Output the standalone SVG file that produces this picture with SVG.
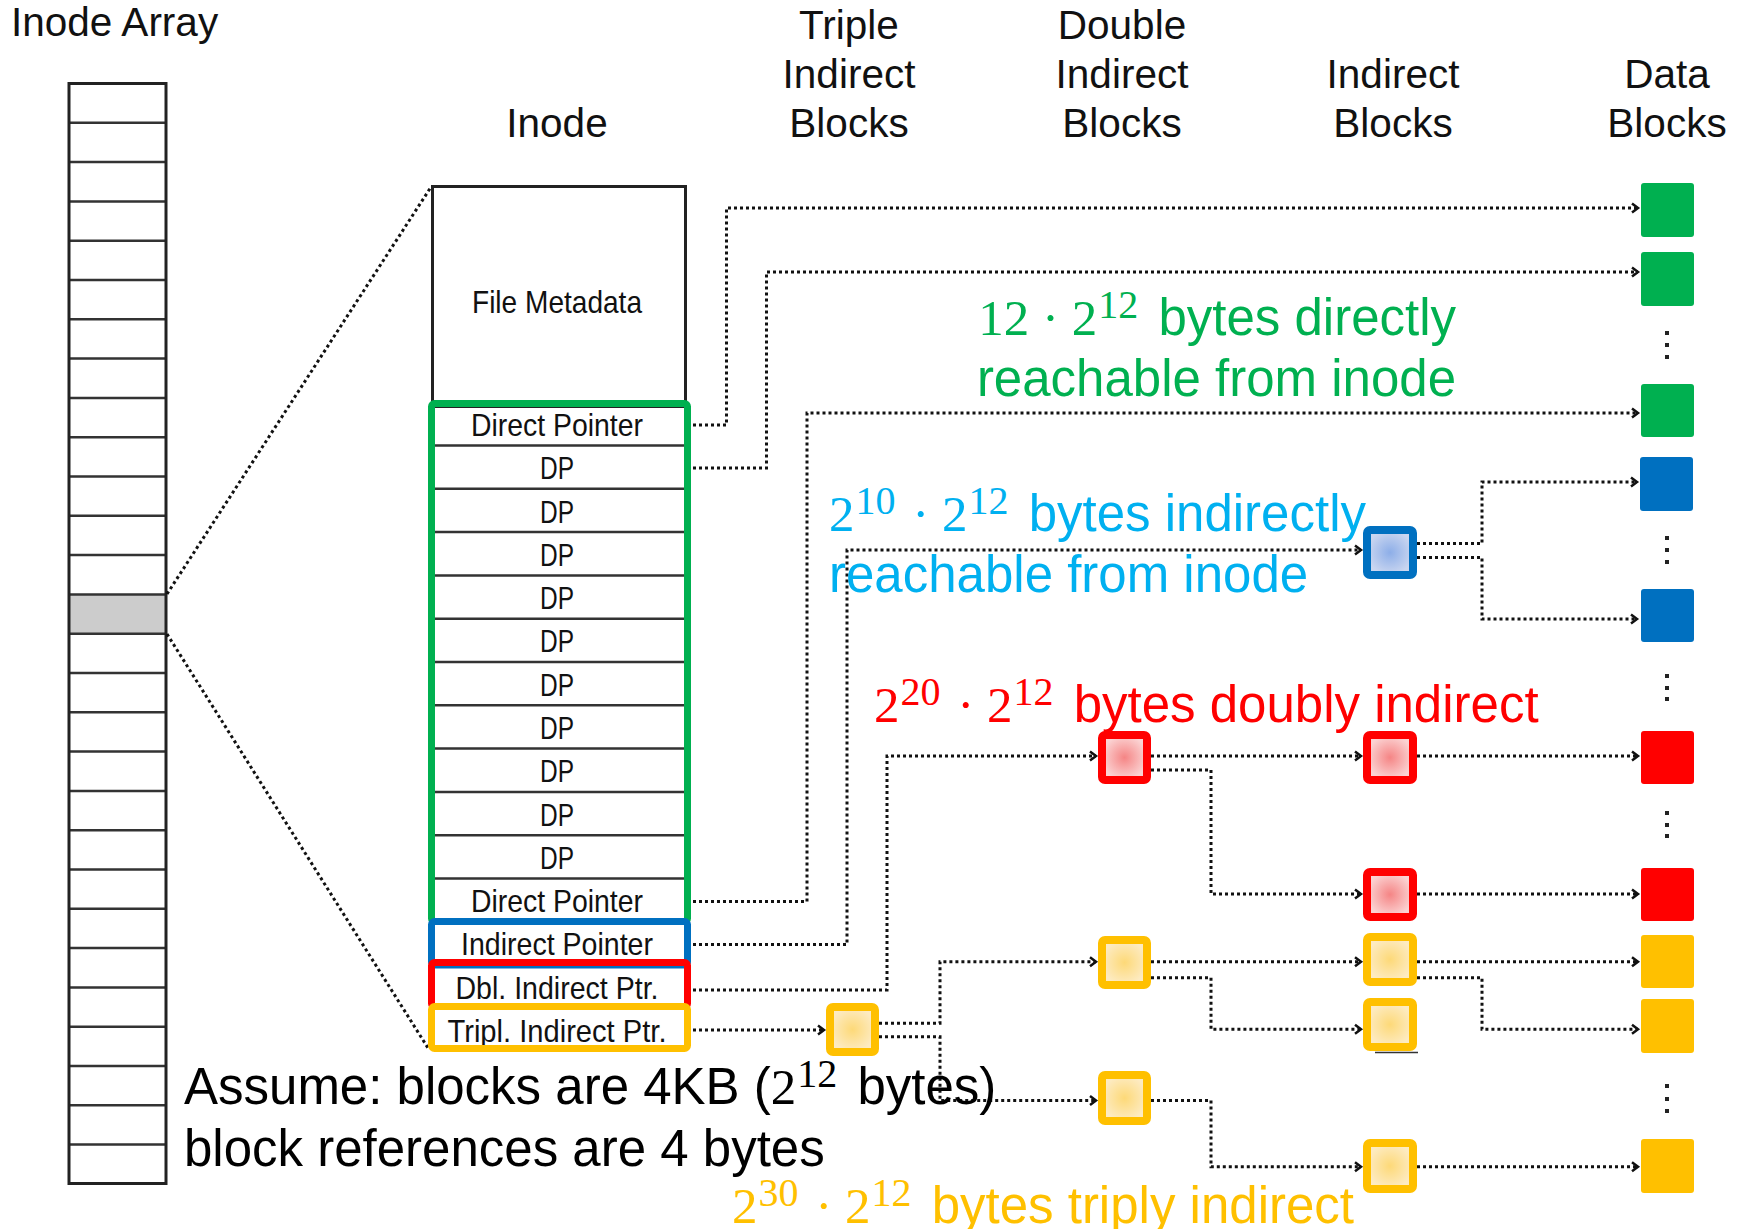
<svg xmlns="http://www.w3.org/2000/svg" width="1742" height="1229" viewBox="0 0 1742 1229">
<style>
.hdr{font-family:"Liberation Sans",Arial,sans-serif;font-size:40.5px;fill:#111;text-anchor:middle}
.cell{font-family:"Liberation Sans Narrow","Liberation Sans",Arial,sans-serif;font-size:31.5px;fill:#111;text-anchor:middle}
.note{font-family:"Liberation Sans",Arial,sans-serif;font-size:51px}
.m{font-family:"Liberation Serif","Times New Roman",serif}
.sup{font-family:"Liberation Serif","Times New Roman",serif;font-size:40px}
.con{fill:none;stroke:#111;stroke-width:3;stroke-dasharray:3 3}
.sep{stroke:#333;stroke-width:2.5}
.ib{stroke-width:8}
.dots{fill:#222}
</style>
<defs>
<marker id="arr" markerWidth="12" markerHeight="12" refX="9" refY="6" orient="auto" markerUnits="userSpaceOnUse"><path d="M3,1.5 L9,6 L3,10.5" fill="none" stroke="#111" stroke-width="2.5"/></marker>
<radialGradient id="gR"><stop offset="0" stop-color="#F58585"/><stop offset="1" stop-color="#FBD3D3"/></radialGradient>
<radialGradient id="gY"><stop offset="0" stop-color="#FDD978"/><stop offset="1" stop-color="#FDEBC2"/></radialGradient>
<radialGradient id="gB"><stop offset="0" stop-color="#8DAEE8"/><stop offset="1" stop-color="#CAD6F0"/></radialGradient>
</defs>
<rect width="1742" height="1229" fill="#fff"/>

<g id="headers">
<text class="hdr" x="11" y="36" style="text-anchor:start">Inode Array</text>
<text class="hdr" x="557" y="137">Inode</text>
<text class="hdr" x="849" y="39">Triple</text>
<text class="hdr" x="849" y="88">Indirect</text>
<text class="hdr" x="849" y="137">Blocks</text>
<text class="hdr" x="1122" y="39">Double</text>
<text class="hdr" x="1122" y="88">Indirect</text>
<text class="hdr" x="1122" y="137">Blocks</text>
<text class="hdr" x="1393" y="88">Indirect</text>
<text class="hdr" x="1393" y="137">Blocks</text>
<text class="hdr" x="1667" y="88">Data</text>
<text class="hdr" x="1667" y="137">Blocks</text>
</g>

<g id="inode-array">
<rect x="69" y="594.4" width="97" height="39.3" fill="#CCCCCC"/>
<path class="sep" stroke="#222" d="M69,122.8H166M69,162.1H166M69,201.4H166M69,240.7H166M69,280H166M69,319.3H166M69,358.6H166M69,397.9H166M69,437.2H166M69,476.5H166M69,515.8H166M69,555.1H166M69,594.4H166M69,633.7H166M69,673H166M69,712.3H166M69,751.6H166M69,790.9H166M69,830.2H166M69,869.5H166M69,908.8H166M69,948.1H166M69,987.4H166M69,1026.7H166M69,1066H166M69,1105.3H166M69,1144.6H166"/>
<rect x="69" y="83.5" width="97" height="1100" fill="none" stroke="#222" stroke-width="3"/>
</g>

<g id="zoom-lines">
<path class="con" d="M167,594 L431,187"/>
<path class="con" d="M167,634 L428,1048"/>
</g>

<g id="inode">
<rect x="432.5" y="186.5" width="253" height="220" fill="#fff" stroke="#222" stroke-width="3"/>
<text class="cell" x="557" y="313" textLength="170" lengthAdjust="spacingAndGlyphs">File Metadata</text>
<path class="sep" d="M435,445.5H684M435,488.8H684M435,532.1H684M435,575.4H684M435,618.7H684M435,662H684M435,705.3H684M435,748.6H684M435,791.9H684M435,835.2H684M435,878.5H684"/>
<text class="cell" x="557" y="435.9" textLength="172" lengthAdjust="spacingAndGlyphs">Direct Pointer</text>
<text class="cell" x="557" y="479.2" textLength="34" lengthAdjust="spacingAndGlyphs">DP</text>
<text class="cell" x="557" y="522.5" textLength="34" lengthAdjust="spacingAndGlyphs">DP</text>
<text class="cell" x="557" y="565.8" textLength="34" lengthAdjust="spacingAndGlyphs">DP</text>
<text class="cell" x="557" y="609.1" textLength="34" lengthAdjust="spacingAndGlyphs">DP</text>
<text class="cell" x="557" y="652.4" textLength="34" lengthAdjust="spacingAndGlyphs">DP</text>
<text class="cell" x="557" y="695.7" textLength="34" lengthAdjust="spacingAndGlyphs">DP</text>
<text class="cell" x="557" y="739" textLength="34" lengthAdjust="spacingAndGlyphs">DP</text>
<text class="cell" x="557" y="782.3" textLength="34" lengthAdjust="spacingAndGlyphs">DP</text>
<text class="cell" x="557" y="825.6" textLength="34" lengthAdjust="spacingAndGlyphs">DP</text>
<text class="cell" x="557" y="868.9" textLength="34" lengthAdjust="spacingAndGlyphs">DP</text>
<text class="cell" x="557" y="912.2" textLength="172" lengthAdjust="spacingAndGlyphs">Direct Pointer</text>
<text class="cell" x="557" y="955" textLength="192" lengthAdjust="spacingAndGlyphs">Indirect Pointer</text>
<text class="cell" x="557" y="998.8" textLength="203" lengthAdjust="spacingAndGlyphs">Dbl. Indirect Ptr.</text>
<text class="cell" x="557" y="1042.1" textLength="219" lengthAdjust="spacingAndGlyphs">Tripl. Indirect Ptr.</text>
<rect x="431.5" y="403.5" width="256" height="518" rx="3" fill="none" stroke="#00B050" stroke-width="7"/>
<rect x="431.5" y="921.5" width="256" height="43.5" rx="3" fill="none" stroke="#0070C0" stroke-width="7"/>
<rect x="431.5" y="962.5" width="256" height="44" rx="3" fill="none" stroke="#FF0000" stroke-width="7"/>
<rect x="431.5" y="1006.5" width="256" height="42" rx="3" fill="none" stroke="#FFC000" stroke-width="7"/>
</g>

<g id="connectors" marker-end="url(#arr)">
<path class="con" d="M693,425H726.5V208H1638"/>
<path class="con" d="M693,468H766.5V272H1638"/>
<path class="con" d="M693,901.5H807V413H1638"/>
<path class="con" d="M693,944.5H847V550H1361"/>
<path class="con" d="M693,990H887V756H1096"/>
<path class="con" d="M693,1030H824"/>
<path class="con" d="M1417,543.5H1482V482H1637"/>
<path class="con" d="M1417,557.5H1482V619H1637"/>
<path class="con" d="M1151,756H1361"/>
<path class="con" d="M1151,770H1211V894H1361"/>
<path class="con" d="M1417,756H1638"/>
<path class="con" d="M1417,894H1638"/>
<path class="con" d="M879,1023.3H940V961.7H1096"/>
<path class="con" d="M879,1036.7H940V1100.5H1096"/>
<path class="con" d="M1151,961.7H1361"/>
<path class="con" d="M1151,977.7H1211V1029.3H1361"/>
<path class="con" d="M1151,1100.5H1211V1166.7H1361"/>
<path class="con" d="M1417,961.7H1638"/>
<path class="con" d="M1417,977.7H1482V1029.3H1638"/>
<path class="con" d="M1417,1166.7H1638"/>
</g>

<g id="blue-indirect"><rect class="ib" x="1367" y="530" width="46" height="45" rx="3" fill="url(#gB)" stroke="#0070C0"/></g>
<g id="red-double"><rect class="ib" x="1102" y="735" width="45" height="45" rx="3" fill="url(#gR)" stroke="#FF0000"/></g>
<g id="red-indirect-1"><rect class="ib" x="1367" y="735" width="46" height="45" rx="3" fill="url(#gR)" stroke="#FF0000"/></g>
<g id="red-indirect-2"><rect class="ib" x="1367" y="872" width="46" height="45" rx="3" fill="url(#gR)" stroke="#FF0000"/></g>
<g id="yellow-triple"><rect class="ib" x="830" y="1007" width="45" height="45" rx="3" fill="url(#gY)" stroke="#FFC000"/></g>
<g id="yellow-double-1"><rect class="ib" x="1102" y="940" width="45" height="45" rx="3" fill="url(#gY)" stroke="#FFC000"/></g>
<g id="yellow-double-2"><rect class="ib" x="1102" y="1075" width="45" height="46" rx="3" fill="url(#gY)" stroke="#FFC000"/></g>
<g id="yellow-indirect-1"><rect class="ib" x="1367" y="937" width="46" height="45" rx="3" fill="url(#gY)" stroke="#FFC000"/></g>
<g id="yellow-indirect-2"><line x1="1375" y1="1052.5" x2="1418" y2="1052.5" stroke="#333" stroke-width="1.5"/><rect class="ib" x="1367" y="1002" width="46" height="45" rx="3" fill="url(#gY)" stroke="#FFC000"/></g>
<g id="yellow-indirect-3"><rect class="ib" x="1367" y="1143" width="46" height="46" rx="3" fill="url(#gY)" stroke="#FFC000"/></g>

<g id="data-blocks">
<rect x="1641" y="183" width="53" height="54" rx="3" fill="#00B050"/>
<rect x="1641" y="252" width="53" height="54" rx="3" fill="#00B050"/>
<rect x="1641" y="384" width="53" height="53" rx="3" fill="#00B050"/>
<rect x="1640" y="457" width="53" height="54" rx="3" fill="#0070C0"/>
<rect x="1641" y="589" width="53" height="53" rx="3" fill="#0070C0"/>
<rect x="1641" y="731" width="53" height="53" rx="3" fill="#FF0000"/>
<rect x="1641" y="868" width="53" height="53" rx="3" fill="#FF0000"/>
<rect x="1641" y="935" width="53" height="53" rx="3" fill="#FFC000"/>
<rect x="1641" y="999" width="53" height="54" rx="3" fill="#FFC000"/>
<rect x="1641" y="1139" width="53" height="54" rx="3" fill="#FFC000"/>
<g class="dots">
<rect x="1665" y="331" width="4" height="4"/><rect x="1665" y="343" width="4" height="4"/><rect x="1665" y="355" width="4" height="4"/>
<rect x="1665" y="536" width="4" height="4"/><rect x="1665" y="548" width="4" height="4"/><rect x="1665" y="560" width="4" height="4"/>
<rect x="1665" y="674" width="4" height="4"/><rect x="1665" y="686" width="4" height="4"/><rect x="1665" y="697" width="4" height="4"/>
<rect x="1665" y="811" width="4" height="4"/><rect x="1665" y="823" width="4" height="4"/><rect x="1665" y="834" width="4" height="4"/>
<rect x="1665" y="1084" width="4" height="4"/><rect x="1665" y="1097" width="4" height="4"/><rect x="1665" y="1109" width="4" height="4"/>
</g>
</g>

<g id="annotations">
<text class="note" x="1456" y="335" text-anchor="end" fill="#00B050"><tspan class="m">12 · 2</tspan><tspan class="sup" dx="1" dy="-17">12</tspan><tspan dx="6" dy="17"> bytes directly</tspan></text>
<text class="note" x="1456" y="396" text-anchor="end" fill="#00B050">reachable from inode</text>
<text class="note" x="829" y="531" fill="#00B0F0"><tspan class="m">2</tspan><tspan class="sup" dx="1" dy="-17">10</tspan><tspan class="m" dx="4" dy="17"> · 2</tspan><tspan class="sup" dx="1" dy="-17">12</tspan><tspan dx="6" dy="17"> bytes indirectly</tspan></text>
<text class="note" x="829" y="592" fill="#00B0F0">reachable from inode</text>
<text class="note" x="874" y="722" fill="#FF0000"><tspan class="m">2</tspan><tspan class="sup" dx="1" dy="-17">20</tspan><tspan class="m" dx="4" dy="17"> · 2</tspan><tspan class="sup" dx="1" dy="-17">12</tspan><tspan dx="6" dy="17"> bytes doubly indirect</tspan></text>
<text class="note" x="732" y="1223" fill="#FFC000"><tspan class="m">2</tspan><tspan class="sup" dx="1" dy="-17">30</tspan><tspan class="m" dx="4" dy="17"> · 2</tspan><tspan class="sup" dx="1" dy="-17">12</tspan><tspan dx="6" dy="17"> bytes triply indirect</tspan></text>
<text class="note" x="184" y="1104" fill="#000">Assume: blocks are 4KB (<tspan class="m">2</tspan><tspan class="sup" dx="1" dy="-17">12</tspan><tspan dx="6" dy="17"> bytes)</tspan></text>
<text class="note" x="184" y="1166" fill="#000">block references are 4 bytes</text>
</g>
</svg>
